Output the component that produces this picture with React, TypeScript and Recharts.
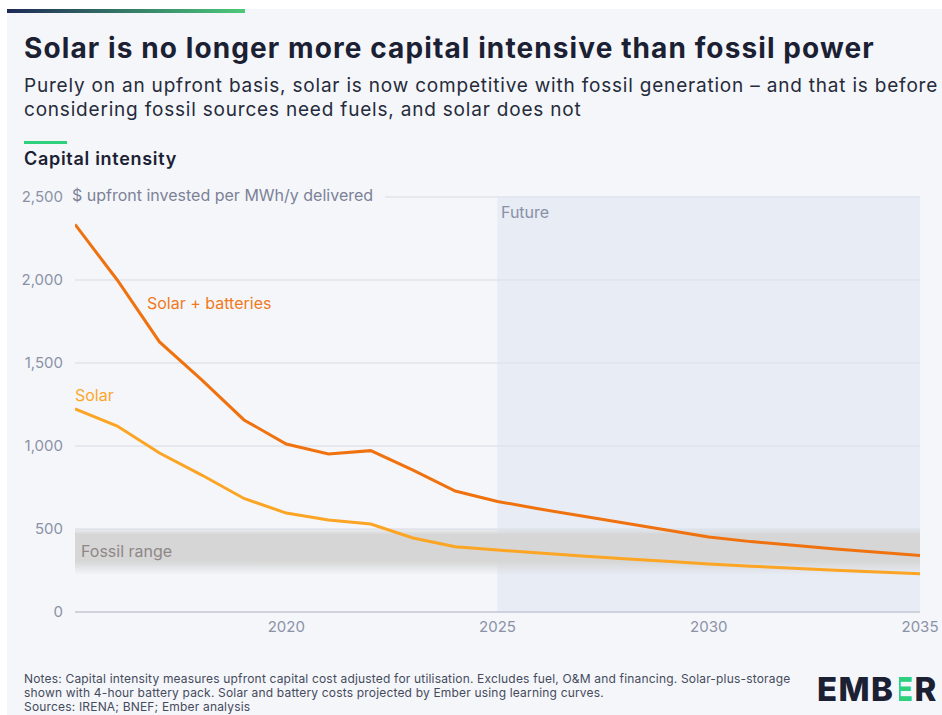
import React from 'react';
import { LineChart, Line, XAxis, YAxis, CartesianGrid, ReferenceArea } from 'recharts';

const years = [2015, 2016, 2017, 2018, 2019, 2020, 2021, 2022, 2023, 2024, 2025, 2026, 2027, 2028, 2029, 2030, 2031, 2032, 2033, 2034, 2035];
const solarBatteries = [2335, 2000, 1627, 1398, 1157, 1012, 952, 972, 855, 729, 666, 620, 578, 536, 494, 452, 424, 402, 380, 360, 340];
const solar = [1223, 1120, 958, 825, 684, 596, 554, 530, 446, 393, 373, 356, 338, 321, 305, 289, 276, 263, 252, 241, 230];
const yTicks = [0, 500, 1000, 1500, 2000, 2500];
const xTicks = [2020, 2025, 2030, 2035];
const fossilRange = [223, 500];
const futureStart = 2025;

const data = years.map((y, i) => ({ year: y, sb: solarBatteries[i], s: solar[i] }));

const FONT = 'Inter, "Open Sans", sans-serif';
const BG = '#f4f6fa';

const fmt = (v: number) => v.toLocaleString('en-US');

export default function App() {
  return (
    <div style={{ position: 'absolute', left: 0, top: 0, width: 942, height: 715, background: '#ffffff', fontFamily: FONT, overflow: 'hidden' }}>
      <svg width={0} height={0} style={{ position: 'absolute' }}>
        <defs>
          <linearGradient id="fossilGrad" x1="0" y1="0" x2="0" y2="1">
            <stop offset="0" stopColor="#d6d6d6" stopOpacity={0.25} />
            <stop offset="0.12" stopColor="#d6d6d6" stopOpacity={1} />
            <stop offset="0.7" stopColor="#d6d6d6" stopOpacity={1} />
            <stop offset="1" stopColor="#d6d6d6" stopOpacity={0} />
          </linearGradient>
        </defs>
      </svg>
      <div style={{ position: 'absolute', left: 7, top: 9, width: 935, height: 706, background: BG }} />
      <div style={{ position: 'absolute', left: 7, top: 9, width: 238, height: 4, background: 'linear-gradient(90deg, #1e2a55, #4cc97a)' }} />

      <div style={{ position: 'absolute', left: 24, top: 31, fontSize: 28, lineHeight: '34px', fontWeight: 700, color: '#1b2133', whiteSpace: 'nowrap', letterSpacing: 1.1 }}>
        Solar is no longer more capital intensive than fossil power
      </div>
      <div style={{ position: 'absolute', left: 24, top: 74, fontSize: 19, lineHeight: '23.5px', fontWeight: 400, color: '#262b3b', whiteSpace: 'nowrap', letterSpacing: 0.8 }}>
        Purely on an upfront basis, solar is now competitive with fossil generation – and that is before<br />
        considering fossil sources need fuels, and solar does not
      </div>
      <div style={{ position: 'absolute', left: 24, top: 141, width: 43, height: 3, background: '#2fd07c' }} />
      <div style={{ position: 'absolute', left: 24, top: 148, fontSize: 18, lineHeight: '22px', fontWeight: 600, color: '#1b2133', whiteSpace: 'nowrap', letterSpacing: 0.7 }}>
        Capital intensity
      </div>

      <div style={{ position: 'absolute', left: 0, top: 0 }}>
        <LineChart width={942} height={715} data={data} margin={{ top: 197, right: 22, bottom: 73, left: 15 }}>
          <CartesianGrid vertical={false} stroke="#d7dae3" strokeWidth={1} />
          <ReferenceArea x1={futureStart} x2={2035} y1={0} y2={2500} fill="#dce3f0" fillOpacity={0.55} stroke="none" ifOverflow="hidden" />
          <ReferenceArea x1={2015} x2={2035} y1={fossilRange[0]} y2={fossilRange[1]} fill="url(#fossilGrad)" fillOpacity={1} stroke="none" />
          <XAxis
            dataKey="year"
            type="number"
            domain={[2015, 2035]}
            ticks={xTicks}
            height={30}
            tickSize={0}
            tickMargin={9}
            axisLine={{ stroke: '#b9bdcc', strokeWidth: 1 }}
            tick={{ fill: '#8c92a6', fontSize: 15, fontFamily: FONT }}
            allowDataOverflow
          />
          <YAxis
            type="number"
            domain={[0, 2500]}
            ticks={yTicks}
            width={60}
            tickSize={0}
            tickMargin={12}
            axisLine={false}
            tickLine={false}
            tickFormatter={fmt}
            tick={{ fill: '#8c92a6', fontSize: 15, fontFamily: FONT }}
          />
          <Line type="linear" dataKey="s" stroke="#fca524" strokeWidth={3} dot={false} isAnimationActive={false} />
          <Line type="linear" dataKey="sb" stroke="#f0720f" strokeWidth={3} dot={false} isAnimationActive={false} />
        </LineChart>
      </div>

      <div style={{ position: 'absolute', left: 68, top: 185, paddingLeft: 4, paddingRight: 12, fontSize: 16, lineHeight: '20px', color: '#7c8297', background: BG, whiteSpace: 'nowrap' }}>
        $ upfront invested per MWh/y delivered
      </div>
      <div style={{ position: 'absolute', left: 501, top: 202, fontSize: 16, lineHeight: '20px', color: '#8a90a6', whiteSpace: 'nowrap' }}>Future</div>
      <div style={{ position: 'absolute', left: 147, top: 293, fontSize: 16, lineHeight: '20px', color: '#f07a1a', whiteSpace: 'nowrap' }}>Solar + batteries</div>
      <div style={{ position: 'absolute', left: 75, top: 385, fontSize: 16, lineHeight: '20px', color: '#fca62a', whiteSpace: 'nowrap' }}>Solar</div>
      <div style={{ position: 'absolute', left: 81, top: 541, fontSize: 16, lineHeight: '20px', color: '#8f8787', whiteSpace: 'nowrap' }}>Fossil range</div>

      <div style={{ position: 'absolute', left: 24, top: 672, fontSize: 12, lineHeight: '14px', color: '#464b5c', whiteSpace: 'nowrap', letterSpacing: 0.18 }}>
        Notes: Capital intensity measures upfront capital cost adjusted for utilisation. Excludes fuel, O&amp;M and financing. Solar-plus-storage<br />
        shown with 4-hour battery pack. Solar and battery costs projected by Ember using learning curves.<br />
        Sources: IRENA; BNEF; Ember analysis
      </div>

      <div style={{ position: 'absolute', left: 817, top: 670, fontSize: 33, lineHeight: '38px', fontWeight: 800, color: '#1b2133', whiteSpace: 'nowrap', letterSpacing: 1.4 }}>
        EMB
        <span style={{ position: 'relative', color: '#2fd07c', marginLeft: -1.4 }}>
          E
          <span style={{ position: 'absolute', left: 0, top: 0, width: 6, height: 38, background: BG }} />
        </span>
        R
      </div>
    </div>
  );
}
